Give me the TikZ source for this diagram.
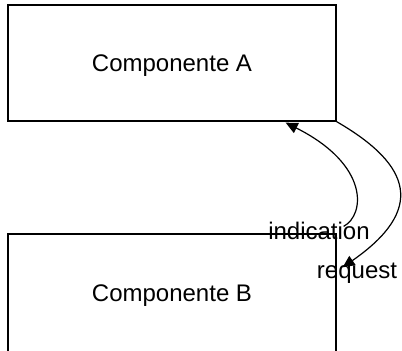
\documentclass[tikz,border=0pt]{standalone}
\usepackage{fontspec}
\setmainfont{Liberation Sans}
\usetikzlibrary{arrows.meta,calc}
\begin{document}
\begin{tikzpicture}[x=0.5pt,y=-0.5pt,
  comp/.style={draw,line width=0.65pt,minimum width=164pt,minimum height=58pt,inner sep=0pt,text depth=0pt,font=\fontsize{12}{14}\selectfont},
  flow/.style={line width=0.6pt,-{Triangle[length=6pt,width=5.5pt]}},
  lbl/.style={inner sep=0pt,font=\fontsize{12}{14}\selectfont}]
\useasboundingbox (0,0) rectangle (402,350);
\clip (0,0) rectangle (402,350);
\node[comp] (A) at (172,63) {Componente A};
\node[comp,minimum height=59pt] (B) at (172,293) {Componente B};
% request: from the corner of A down to the side of B
\coordinate (rqEnd) at ($(B.north east)+(6,34)$);
\draw[flow] (A.south east) .. controls +(76,44) and (425,210) .. (rqEnd);
% indication: from the top of B back up to A
\coordinate (inStart) at ($(B.north east)+(7,-7)$);
\coordinate (inEnd) at ($(A.south east)+(-51,1)$);
\draw[flow] (inStart) .. controls (365,215) and (370,165) .. (inEnd);
\node[lbl] (ind) at (319,231) {indication};
\node[lbl] (req) at (357,273) {request};
\end{tikzpicture}
\end{document}
